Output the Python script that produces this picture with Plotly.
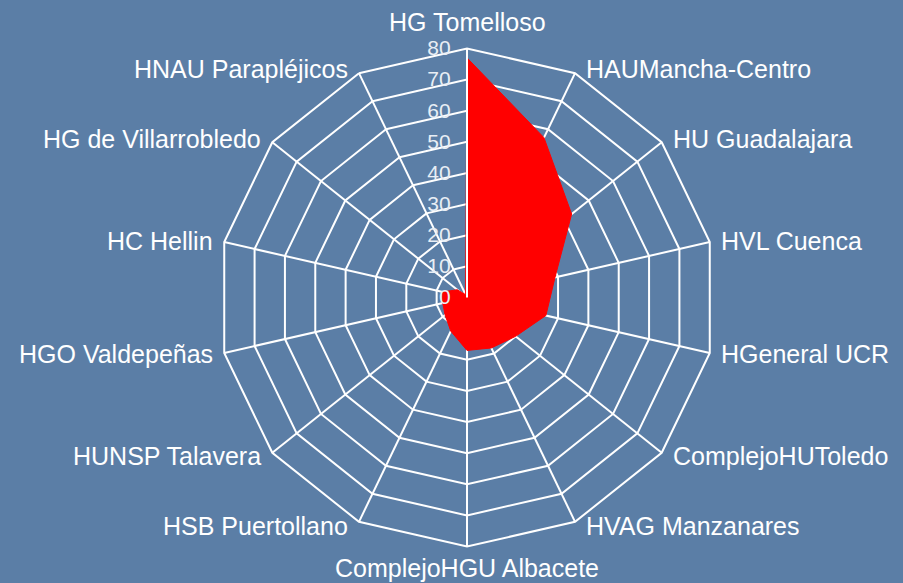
import math
import plotly.graph_objects as go

categories = ["HG Tomelloso", "HAUMancha-Centro", "HU Guadalajara", "HVL Cuenca",
              "HGeneral UCR", "ComplejoHUToledo", "HVAG Manzanares", "ComplejoHGU Albacete",
              "HSB Puertollano", "HUNSP Talavera", "HGO Valdepeñas", "HC Hellin",
              "HG de Villarrobledo", "HNAU Parapléjicos"]
values = [77, 57, 43, 29, 26, 20, 18, 17, 12, 9, 8, 8, 4, 1]
tick_vals = [0, 10, 20, 30, 40, 50, 60, 70, 80]

fig = go.Figure()
fig.add_trace(go.Scatterpolar(
    r=values + values[:1],
    theta=categories + categories[:1],
    mode="lines",
    fill="toself",
    fillcolor="#FF0000",
    line=dict(color="#FF0000", width=1),
    showlegend=False,
    hoverinfo="skip",
))

W, H = 903, 583
cx, cy, R = 467, 297.5, 249
BG = "#5b7ea6"
LABEL_SIZE = 25

# category labels placed just outside each polygon vertex (Excel style)
annotations = []
n = len(categories)
for k, name in enumerate(categories):
    a = 2 * math.pi * k / n
    s, c = math.sin(a), math.cos(a)
    vx, vy = cx + R * s, cy - R * c
    if abs(s) < 0.1:
        px, py = vx, vy + (-26 if c > 0 else 21)
        xa = "center"
    else:
        px = vx + (9 if s > 0 else -9)
        py = vy - 5 * c
        xa = "left" if s > 0 else "right"
    annotations.append(dict(
        text=name, xref="paper", yref="paper",
        x=px / W, y=1 - py / H, xanchor=xa, yanchor="middle",
        showarrow=False, font=dict(size=LABEL_SIZE, color="white"),
    ))

fig.update_layout(
    width=W, height=H,
    margin=dict(l=0, r=0, t=0, b=0),
    paper_bgcolor=BG,
    font=dict(family="Liberation Sans, Arial, sans-serif", color="white", size=LABEL_SIZE),
    annotations=annotations,
    polar=dict(
        domain=dict(x=[(cx - R) / W, (cx + R) / W], y=[(H - cy - R) / H, (H - cy + R) / H]),
        bgcolor="rgba(0,0,0,0)",
        gridshape="linear",
        radialaxis=dict(
            range=[0, 80], tickvals=tick_vals, angle=90, tickangle=90,
            side="counterclockwise",
            showline=True, linecolor="white", linewidth=2,
            gridcolor="white", gridwidth=1.5,
            ticks="outside", ticklen=8, tickcolor="rgba(0,0,0,0)",
            layer="above traces",
            tickfont=dict(size=21, color="#e8eef5"),
        ),
        angularaxis=dict(
            direction="clockwise", rotation=90,
            showline=True, linecolor="white", linewidth=2,
            gridcolor="white", gridwidth=1.5,
            ticks="", showticklabels=False,
            layer="above traces",
        ),
    ),
)
fig.write_html(
    "out.html",
    config={"displayModeBar": False},
    post_script="document.body.style.margin='0';document.body.style.background='" + BG + "';",
)
